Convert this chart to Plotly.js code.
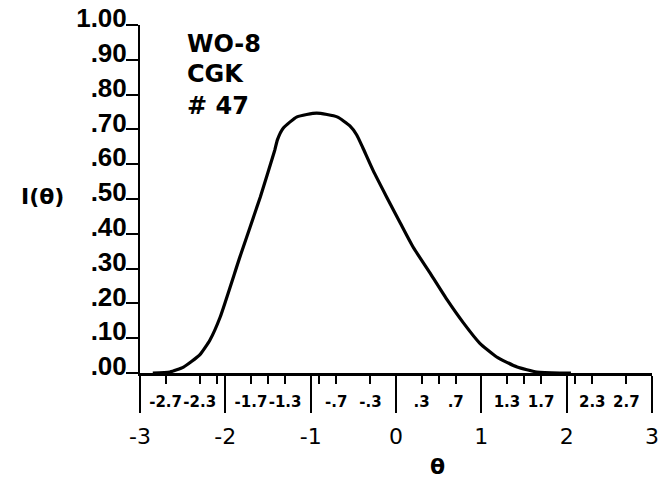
<!DOCTYPE html>
<html>
<head>
<meta charset="utf-8">
<script src="https://cdn.plot.ly/plotly-3.0.1.min.js"></script>
<style>html,body{margin:0;padding:0;background:#fff;}#chart{width:660px;height:483px;}</style>
</head>
<body>
<div id="chart"></div>
<script>
// Item information curve
const theta = [-2.85, -2.65, -2.49, -2.30, -2.18, -2.06, -1.83, -1.59, -1.42, -1.39, -1.32, -1.16, -0.93, -0.69, -0.54, -0.46, -0.39, -0.27, -0.11, 0.05, 0.20, 0.40, 0.60, 0.79, 0.98, 1.18, 1.42, 1.65, 1.92, 2.05];
const info  = [0.000, 0.003, 0.017, 0.052, 0.095, 0.161, 0.333, 0.506, 0.641, 0.670, 0.704, 0.736, 0.747, 0.736, 0.710, 0.684, 0.648, 0.583, 0.506, 0.431, 0.362, 0.287, 0.210, 0.144, 0.086, 0.046, 0.017, 0.003, 0.000, 0.000];

const yTickVals = [0, 0.1, 0.2, 0.3, 0.4, 0.5, 0.6, 0.7, 0.8, 0.9, 1.0];
const yTickText = [".00", ".10", ".20", ".30", ".40", ".50", ".60", ".70", ".80", ".90", "1.00"];
const xMajorVals = [-3, -2, -1, 0, 1, 2, 3];
const xMajorText = ["-3", "-2", "-1", "0", "1", "2", "3"];
const xMinorVals = [-2.7, -2.3, -2.1, -1.7, -1.5, -1.3, -0.9, -0.7, -0.3, 0.3, 0.5, 0.7, 1.3, 1.5, 1.7, 2.1, 2.3, 2.7];
const xMinorText = ["-2.7", "-2.3", "", "-1.7", "", "-1.3", "", "-.7", "-.3", ".3", "", ".7", "1.3", "", "1.7", "", "2.3", "2.7"];
const itemLabel = ["WO-8", "CGK", "# 47"];
const itemLabelY = [0.946, 0.860, 0.768];
const yLabel = "I(θ)";
const xLabel = "θ";

const FONT = "Liberation Sans, Arial, sans-serif";
const BOLDFONT = "DejaVu Sans, sans-serif";

const traces = [{
  x: theta, y: info, type: "scatter", mode: "lines",
  line: {color: "#000", width: 3.2, shape: "spline", smoothing: 0.5},
  hoverinfo: "skip", showlegend: false
}, {
  x: [xMinorVals[0]], y: [0], xaxis: "x2", yaxis: "y", type: "scatter", mode: "markers",
  marker: {opacity: 0}, hoverinfo: "skip", showlegend: false
}];

const annotations = itemLabel.map((t, i) => ({
  xref: "paper", yref: "paper", x: 0.088, y: itemLabelY[i], xanchor: "left", yanchor: "middle",
  align: "left", showarrow: false, text: t,
  font: {size: 24, family: BOLDFONT, color: "#000", weight: "bold"}
}));
annotations.push(
  {xref: "paper", yref: "paper", x: -0.191, y: 0.506, xanchor: "center", yanchor: "middle",
   showarrow: false, text: yLabel, font: {size: 22, family: BOLDFONT, color: "#000", weight: "bold"}},
  {xref: "paper", yref: "paper", x: 0.582, y: -0.27, xanchor: "center", yanchor: "middle",
   showarrow: false, text: xLabel, font: {size: 22, family: BOLDFONT, color: "#000", weight: "bold"}}
);

const layout = {
  width: 660, height: 483,
  margin: {l: 140, r: 8, t: 25, b: 110},
  paper_bgcolor: "#fff", plot_bgcolor: "#fff",
  showlegend: false,
  font: {family: FONT, color: "#000"},
  xaxis: {
    range: [-3, 3], showgrid: false, zeroline: false,
    showline: true, linecolor: "#000", linewidth: 3,
    tickmode: "array", tickvals: xMajorVals, ticktext: xMajorText,
    ticks: "outside", ticklen: 37, tickwidth: 2, tickcolor: "#000",
    ticklabelstandoff: 5, tickangle: 0,
    tickfont: {size: 22, family: BOLDFONT, color: "#000"}
  },
  xaxis2: {
    range: [-3, 3], overlaying: "x", anchor: "y", side: "bottom",
    showgrid: false, zeroline: false, showline: false,
    tickmode: "array", tickvals: xMinorVals, ticktext: xMinorText,
    ticks: "outside", ticklen: 10, tickwidth: 2, tickcolor: "#000",
    ticklabelstandoff: 5, tickangle: 0,
    tickfont: {size: 15, family: BOLDFONT, color: "#000", weight: "bold"}
  },
  yaxis: {
    range: [0, 1], showgrid: false, zeroline: false,
    showline: true, linecolor: "#000", linewidth: 2,
    tickmode: "array", tickvals: yTickVals, ticktext: yTickText,
    ticks: "outside", ticklen: 12, tickwidth: 2, tickcolor: "#000",
    ticklabelstandoff: -6, ticklabelshift: -7,
    tickfont: {size: 26, family: FONT, color: "#000", weight: "bold"}
  },
  annotations: annotations
};

Plotly.newPlot("chart", traces, layout, {staticPlot: true, displayModeBar: false});
</script>
</body>
</html>
